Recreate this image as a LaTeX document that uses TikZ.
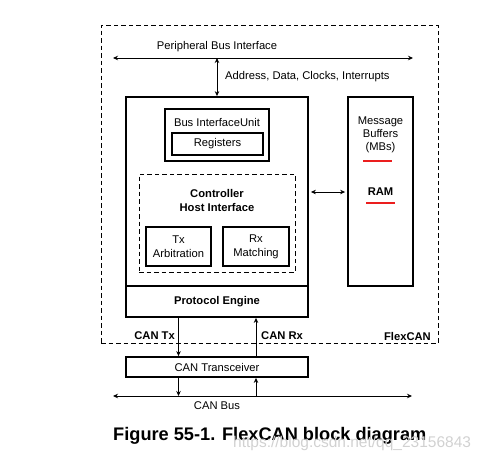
\documentclass[tikz,border=0pt]{standalone}
\usepackage{fontspec}
\setmainfont{Liberation Sans}
\usetikzlibrary{arrows.meta}
\definecolor{ulred}{RGB}{235,30,30}
\tikzset{
  box/.style={draw, line width=1.8pt, inner sep=0pt, align=center},
  dbox/.style={draw, line width=0.8pt, dash pattern=on 4.5pt off 3pt, inner sep=0pt},
  lbl/.style={inner sep=0pt, align=center, font=\fontsize{11.2}{14}\selectfont},
  blbl/.style={lbl, font=\fontsize{11.2}{14}\selectfont\bfseries},
  arr/.style={line width=0.8pt, -{Stealth[length=5pt,width=4.5pt]}},
  darr/.style={line width=0.8pt, {Stealth[length=5pt,width=4.5pt]}-{Stealth[length=5pt,width=4.5pt]}},
  redline/.style={color=ulred, line width=1.3pt}
}
\begin{document}
\begin{tikzpicture}[x=1pt,y=-1pt]
\useasboundingbox (0,0) rectangle (485,461);
% outer FlexCAN region
\node[dbox, minimum width=337pt, minimum height=318pt] (outer) at (269.5,184) {};
% peripheral bus
\coordinate (pbL) at (113,58);
\coordinate (pbR) at (413,58);
\coordinate (pbM) at (217,58);
\draw[darr] (pbL) -- (pbR);
\node[lbl] (pbi) at (217,46.5) {Peripheral Bus Interface};
% main blocks
\node[box, minimum width=182pt, minimum height=189pt] (main) at (217,191.5) {};
\node[box, minimum width=182pt, minimum height=31pt, font=\fontsize{11.2}{14}\selectfont\bfseries] (pe) at (217,301.5) {Protocol Engine};
\node[box, minimum width=65pt, minimum height=189pt] (mb) at (380.5,191.5) {};
\draw[darr] (pbM) -- (main.north);
\node[lbl, anchor=west] (adc) at (225,77) {Address, Data, Clocks, Interrupts};
% bus interface unit
\node[box, minimum width=104pt, minimum height=52pt] (biu) at (217,135) {};
\node[lbl] (biul) at (217,122) {Bus InterfaceUnit};
\node[box, minimum width=91pt, minimum height=22pt, font=\fontsize{11.2}{14}\selectfont] (reg) at (217.5,144) {Registers};
% controller host interface
\node[dbox, minimum width=156pt, minimum height=98pt] (chi) at (217,223) {};
\node[blbl] (chil) at (217,200) {Controller\\Host Interface};
\node[box, minimum width=65pt, minimum height=39pt, font=\fontsize{11.2}{14}\selectfont] (txa) at (178.5,246.5) {Tx\\Arbitration};
\node[box, minimum width=66pt, minimum height=39pt, font=\fontsize{11.2}{14}\selectfont] (rxm) at (256,246.5) {Rx\\Matching};
% message buffers
\node[lbl, font=\fontsize{11.2}{13}\selectfont] (mbl) at (380.5,135) {Message\\Buffers\\(MBs)};
\node[blbl] (ram) at (380.5,192) {RAM};
\coordinate (r1a) at (363,161); \coordinate (r1b) at (392,161);
\coordinate (r2a) at (366,203); \coordinate (r2b) at (395,203);
\draw[redline] (r1a) -- (r1b);
\draw[redline] (r2a) -- (r2b);
\draw[darr, shorten <=2pt, shorten >=2pt] (main.east |- ram) -- (mb.west |- ram);
% transceiver
\node[box, minimum width=182pt, minimum height=20pt, font=\fontsize{11.2}{14}\selectfont] (trx) at (217,367) {CAN Transceiver};
\draw[arr] (pe.south -| txa) -- (trx.north -| txa);
\draw[arr] (trx.north -| rxm) -- (pe.south -| rxm);
\node[blbl, anchor=east] (cantx) at (175,336) {CAN Tx};
\node[blbl, anchor=west] (canrx) at (261,336) {CAN Rx};
\node[blbl, anchor=east] (flex) at (431,336) {FlexCAN};
% CAN bus
\coordinate (cbL) at (113,396);
\coordinate (cbR) at (412,396);
\draw[darr] (cbL) -- (cbR);
\draw[arr] (trx.south -| txa) -- (cbL -| txa);
\draw[arr] (cbL -| rxm) -- (trx.south -| rxm);
\node[lbl] (cbus) at (217,405.5) {CAN Bus};
% caption
\node[inner sep=0pt, anchor=west, font=\fontsize{18.2}{21}\selectfont\bfseries] (cap) at (113,436) {Figure 55-1. FlexCAN block diagram};
\node[inner sep=0pt, anchor=west, text=black!18, font=\fontsize{15.5}{18}\selectfont] (wm) at (233,443) {https://blog.csdn.net/qq\_23156843};
\end{tikzpicture}
\end{document}
